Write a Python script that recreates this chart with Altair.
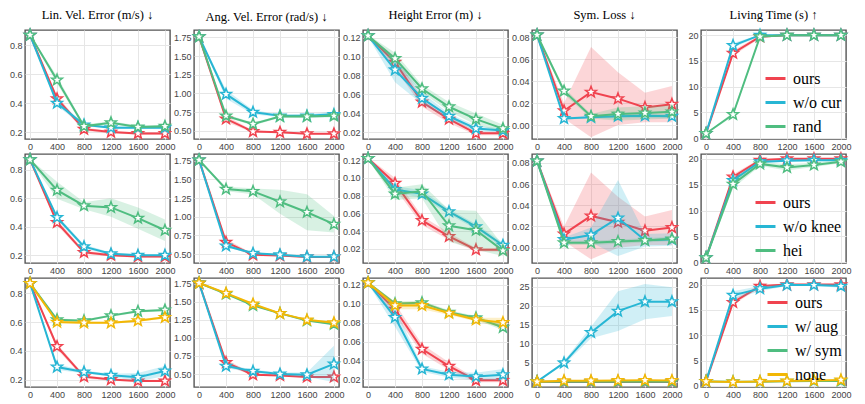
import math
import altair as alt
import pandas as pd

STEPS = [0, 400, 800, 1200, 1600, 2000]
TITLES = ["Lin. Vel. Error (m/s) ↓", "Ang. Vel. Error (rad/s) ↓", "Height Error (m) ↓",
          "Sym. Loss ↓", "Living Time (s) ↑"]

RED, BLUE, GREEN, YELLOW = "#F0434F", "#27B6D4", "#4FBD80", "#F2B705"

# ---- ours (same in every row) ----
ours_lin = [0.87, 0.43, 0.22, 0.20, 0.19, 0.19]
ours_lin_sd = [0.004, 0.02, 0.012, 0.008, 0.008, 0.008]
ours_ang = [1.76, 0.66, 0.49, 0.48, 0.46, 0.46]
ours_ang_sd = [0.005, 0.04, 0.015, 0.012, 0.01, 0.01]
ours_hgt = [0.122, 0.094, 0.052, 0.034, 0.019, 0.019]
ours_hgt_sd = [0.001, 0.006, 0.005, 0.004, 0.002, 0.002]
ours_sym = [0.082, 0.013, 0.030, 0.024, 0.016, 0.019]
ours_sym_sd = [0.001, 0.007, 0.041, 0.024, 0.0135, 0.0165]
ours_liv = [0.9, 16.5, 19.7, 20.0, 20.0, 20.0]
ours_liv_sd = [0.1, 0.5, 0.3, 0.1, 0.1, 0.1]

# ---- row 1 ----
cur_lin = [0.87, 0.40, 0.25, 0.23, 0.23, 0.23]
cur_lin_sd = [0.004, 0.02, 0.01, 0.008, 0.008, 0.01]
cur_ang = [1.76, 0.99, 0.75, 0.70, 0.70, 0.72]
cur_ang_sd = [0.005, 0.06, 0.03, 0.015, 0.02, 0.04]
cur_hgt = [0.122, 0.086, 0.056, 0.037, 0.024, 0.022]
cur_hgt_sd = [0.001, 0.013, 0.006, 0.003, 0.003, 0.002]
cur_sym = [0.082, 0.006, 0.007, 0.008, 0.0085, 0.008]
cur_sym_sd = [0.001, 0.001, 0.001, 0.002, 0.002, 0.002]
cur_liv = [0.9, 18.0, 20.0, 20.0, 20.0, 20.0]
cur_liv_sd = [0.1, 0.5, 0.1, 0.05, 0.05, 0.05]

rand_lin = [0.87, 0.56, 0.24, 0.265, 0.235, 0.24]
rand_lin_sd = [0.004, 0.025, 0.012, 0.01, 0.01, 0.01]
rand_ang = [1.76, 0.70, 0.59, 0.69, 0.69, 0.70]
rand_ang_sd = [0.005, 0.02, 0.02, 0.015, 0.015, 0.015]
rand_hgt = [0.122, 0.098, 0.066, 0.047, 0.034, 0.024]
rand_hgt_sd = [0.001, 0.006, 0.004, 0.005, 0.006, 0.004]
rand_sym = [0.082, 0.031, 0.008, 0.010, 0.011, 0.012]
rand_sym_sd = [0.001, 0.003, 0.002, 0.006, 0.006, 0.006]
rand_liv = [0.9, 4.6, 19.7, 20.0, 20.0, 20.0]
rand_liv_sd = [0.1, 0.4, 0.2, 0.05, 0.05, 0.05]

# ---- row 2 ----
knee_lin = [0.87, 0.465, 0.26, 0.21, 0.20, 0.20]
knee_lin_sd = [0.004, 0.015, 0.015, 0.008, 0.006, 0.006]
knee_ang = [1.76, 0.61, 0.51, 0.49, 0.465, 0.465]
knee_ang_sd = [0.005, 0.02, 0.012, 0.01, 0.01, 0.01]
knee_hgt = [0.122, 0.087, 0.082, 0.062, 0.045, 0.024]
knee_hgt_sd = [0.001, 0.004, 0.004, 0.003, 0.003, 0.003]
knee_sym = [0.082, 0.0077, 0.012, 0.028, 0.007, 0.0077]
knee_sym_sd = [0.001, 0.002, 0.007, 0.036, 0.006, 0.006]
knee_liv = [0.9, 15.8, 19.4, 19.6, 19.7, 19.7]
knee_liv_sd = [0.1, 0.5, 0.3, 0.2, 0.2, 0.2]

hei_lin = [0.87, 0.656, 0.547, 0.535, 0.46, 0.375]
hei_lin_sd = [0.004, 0.06, 0.025, 0.065, 0.075, 0.075]
hei_ang = [1.76, 1.37, 1.34, 1.20, 1.06, 0.90]
hei_ang_sd = [0.005, 0.03, 0.04, 0.16, 0.24, 0.11]
hei_hgt = [0.122, 0.082, 0.085, 0.046, 0.041, 0.018]
hei_hgt_sd = [0.001, 0.007, 0.008, 0.018, 0.022, 0.006]
hei_sym = [0.082, 0.0046, 0.0046, 0.0058, 0.0068, 0.0083]
hei_sym_sd = [0.001, 0.002, 0.002, 0.002, 0.002, 0.002]
hei_liv = [0.9, 15.1, 19.0, 18.3, 18.8, 19.4]
hei_liv_sd = [0.1, 0.8, 0.4, 0.6, 0.4, 0.3]

# ---- row 3 ----
aug_lin = [0.87, 0.287, 0.253, 0.23, 0.216, 0.26]
aug_lin_sd = [0.004, 0.02, 0.01, 0.01, 0.03, 0.035]
aug_ang = [1.76, 0.61, 0.54, 0.50, 0.49, 0.64]
aug_ang_sd = [0.005, 0.03, 0.02, 0.02, 0.03, 0.25]
aug_hgt = [0.122, 0.0855, 0.031, 0.025, 0.023, 0.025]
aug_hgt_sd = [0.001, 0.01, 0.003, 0.003, 0.004, 0.006]
aug_sym = [0.1, 5.05, 13.0, 18.6, 21.1, 21.1]
aug_sym_sd = [0.05, 0.5, 1.5, 5.2, 4.6, 3.8]
aug_liv = [0.9, 17.9, 19.2, 19.9, 19.9, 19.7]
aug_liv_sd = [0.1, 0.8, 0.5, 0.2, 0.2, 0.3]

wsym_lin = [0.87, 0.617, 0.61, 0.645, 0.675, 0.684]
wsym_lin_sd = [0.004, 0.008, 0.008, 0.008, 0.008, 0.008]
wsym_ang = [1.76, 1.61, 1.45, 1.34, 1.24, 1.19]
wsym_ang_sd = [0.005, 0.01, 0.01, 0.01, 0.01, 0.01]
wsym_hgt = [0.122, 0.100, 0.101, 0.091, 0.085, 0.075]
wsym_hgt_sd = [0.001, 0.002, 0.002, 0.002, 0.002, 0.003]
wsym_sym = [0.08, 0.05, 0.05, 0.05, 0.05, 0.05]
wsym_sym_sd = [0.01, 0.01, 0.01, 0.01, 0.01, 0.01]
wsym_liv = [0.9, 0.85, 0.85, 0.95, 1.0, 1.0]
wsym_liv_sd = [0.05, 0.05, 0.05, 0.05, 0.05, 0.05]

none_lin = [0.87, 0.60, 0.595, 0.595, 0.61, 0.633]
none_lin_sd = [0.004, 0.01, 0.008, 0.008, 0.008, 0.01]
none_ang = [1.76, 1.62, 1.47, 1.34, 1.25, 1.21]
none_ang_sd = [0.005, 0.01, 0.01, 0.01, 0.01, 0.015]
none_hgt = [0.122, 0.098, 0.098, 0.090, 0.083, 0.080]
none_hgt_sd = [0.001, 0.004, 0.004, 0.002, 0.002, 0.005]
none_sym = [0.08, 0.35, 0.35, 0.4, 0.45, 0.4]
none_sym_sd = [0.02, 0.05, 0.05, 0.05, 0.05, 0.05]
none_liv = [0.9, 0.8, 0.9, 1.0, 1.1, 1.2]
none_liv_sd = [0.05, 0.05, 0.05, 0.05, 0.05, 0.05]

OURS = [(ours_lin, ours_lin_sd), (ours_ang, ours_ang_sd), (ours_hgt, ours_hgt_sd),
        (ours_sym, ours_sym_sd), (ours_liv, ours_liv_sd)]

ROWS = [
    (["ours", "w/o cur", "rand"], [RED, BLUE, GREEN], {
        "ours": OURS,
        "w/o cur": [(cur_lin, cur_lin_sd), (cur_ang, cur_ang_sd), (cur_hgt, cur_hgt_sd),
                    (cur_sym, cur_sym_sd), (cur_liv, cur_liv_sd)],
        "rand": [(rand_lin, rand_lin_sd), (rand_ang, rand_ang_sd), (rand_hgt, rand_hgt_sd),
                 (rand_sym, rand_sym_sd), (rand_liv, rand_liv_sd)],
    }),
    (["ours", "w/o knee", "hei"], [RED, BLUE, GREEN], {
        "ours": OURS,
        "w/o knee": [(knee_lin, knee_lin_sd), (knee_ang, knee_ang_sd), (knee_hgt, knee_hgt_sd),
                     (knee_sym, knee_sym_sd), (knee_liv, knee_liv_sd)],
        "hei": [(hei_lin, hei_lin_sd), (hei_ang, hei_ang_sd), (hei_hgt, hei_hgt_sd),
                (hei_sym, hei_sym_sd), (hei_liv, hei_liv_sd)],
    }),
    (["ours", "w/ aug", "w/ sym", "none"], [RED, BLUE, GREEN, YELLOW], {
        "ours": OURS,
        "w/ aug": [(aug_lin, aug_lin_sd), (aug_ang, aug_ang_sd), (aug_hgt, aug_hgt_sd),
                   (aug_sym, aug_sym_sd), (aug_liv, aug_liv_sd)],
        "w/ sym": [(wsym_lin, wsym_lin_sd), (wsym_ang, wsym_ang_sd), (wsym_hgt, wsym_hgt_sd),
                   (wsym_sym, wsym_sym_sd), (wsym_liv, wsym_liv_sd)],
        "none": [(none_lin, none_lin_sd), (none_ang, none_ang_sd), (none_hgt, none_hgt_sd),
                 (none_sym, none_sym_sd), (none_liv, none_liv_sd)],
    }),
]

DOMAINS = [
    [[0.152, 0.905], [0.39, 1.85], [0.013, 0.128], [-0.0127, 0.0865], [-0.16, 21.0]],
    [[0.145, 0.91], [0.38, 1.84], [0.004, 0.127], [-0.0145, 0.0885], [-0.12, 20.9]],
    [[0.148, 0.907], [0.32, 1.83], [0.012, 0.127], [-1.3, 27.3], [-0.2, 21.3]],
]
YTICKS = [
    [0.2, 0.4, 0.6, 0.8], [0.5, 0.75, 1.0, 1.25, 1.5, 1.75],
    [0.02, 0.04, 0.06, 0.08, 0.10, 0.12], [0.0, 0.02, 0.04, 0.06, 0.08], [0, 5, 10, 15, 20],
]
YFMT = [".1f", ".2f", ".2f", ".2f", "d"]
SYM3_TICKS = [0, 5, 10, 15, 20, 25]

W, H = 145, 109
SERIF = "Liberation Serif"


def star_path(r_in=0.42):
    pts = []
    for k in range(10):
        r = 1.0 if k % 2 == 0 else r_in
        a = math.radians(-90 + 36 * k)
        pts.append(f"{r * math.cos(a):.3f},{r * math.sin(a):.3f}")
    return "M" + "L".join(pts) + "Z"


STAR = star_path()

LEGEND = alt.Legend(orient="bottom-right", offset=4, title=None, labelFont=SERIF,
                    labelFontSize=16, labelColor="black", symbolType="stroke",
                    symbolStrokeWidth=3, symbolSize=400, rowPadding=4, labelOffset=6,
                    labelLimit=200)


def panel(ri, ci):
    names, colors, data = ROWS[ri]
    recs = []
    for s in names:
        mean, sd = data[s][ci]
        for st, m, d in zip(STEPS, mean, sd):
            recs.append(dict(step=st, series=s, mean=m, lo=m - d, hi=m + d))
    df = pd.DataFrame(recs)
    xs = alt.Scale(domain=[-75, 2075], nice=False, zero=False)
    ys = alt.Scale(domain=DOMAINS[ri][ci], nice=False, zero=False)
    if ri == 2 and ci == 3:
        yax = alt.Axis(values=SYM3_TICKS, format="d", title=None)
    else:
        yax = alt.Axis(values=YTICKS[ci], format=YFMT[ci], title=None)
    xax = alt.Axis(values=STEPS, format="d", title=None)
    cs = alt.Scale(domain=names, range=colors)
    leg = LEGEND if ci == 4 else None
    X = alt.X("step:Q", scale=xs, axis=xax)
    layers = []
    for s, col in zip(names, colors):
        base = alt.Chart(df).transform_filter(alt.datum.series == s)
        area = base.mark_area(opacity=0.22).encode(
            x=X, y=alt.Y("lo:Q", scale=ys, axis=yax), y2="hi:Q",
            fill=alt.value(col))
        line = base.mark_line(strokeWidth=2).encode(
            x=X, y=alt.Y("mean:Q", scale=ys, axis=yax),
            stroke=alt.Stroke("series:N", scale=cs, legend=leg))
        pts = base.mark_point(shape=STAR, size=130, filled=False, strokeWidth=1.5,
                              opacity=1).encode(
            x=X, y=alt.Y("mean:Q", scale=ys, axis=yax),
            stroke=alt.value(col), fill=alt.value("white"))
        layers += [area, line, pts]
    ch = alt.layer(*layers).properties(width=W, height=H)
    if ri == 0:
        ch = ch.properties(title=TITLES[ci])
    return ch


panels = [panel(ri, ci) for ri in range(3) for ci in range(5)]

chart = (
    alt.concat(*panels, columns=5, spacing={"row": 15, "column": 24}, bounds="flush")
    .resolve_scale(x="independent", y="independent", stroke="independent")
    .resolve_legend(stroke="independent")
    .properties(padding={"left": 0, "top": 0, "right": 0, "bottom": 0}, background="white")
    .configure_view(stroke="#555555", strokeWidth=1.4)
    .configure_axis(grid=True, gridColor="#e6e6e6", gridWidth=1, domain=False, ticks=False,
                    labelColor="#444444", labelFont="Liberation Sans", labelFontSize=9,
                    labelPadding=3)
    .configure_legend(labelFont=SERIF, labelFontSize=16, labelColor="black")
    .configure_title(font=SERIF, fontSize=12.5, fontWeight="normal",
                     color="black", offset=5)
)

chart.save("out.html", embed_options={"renderer": "svg", "actions": False})
